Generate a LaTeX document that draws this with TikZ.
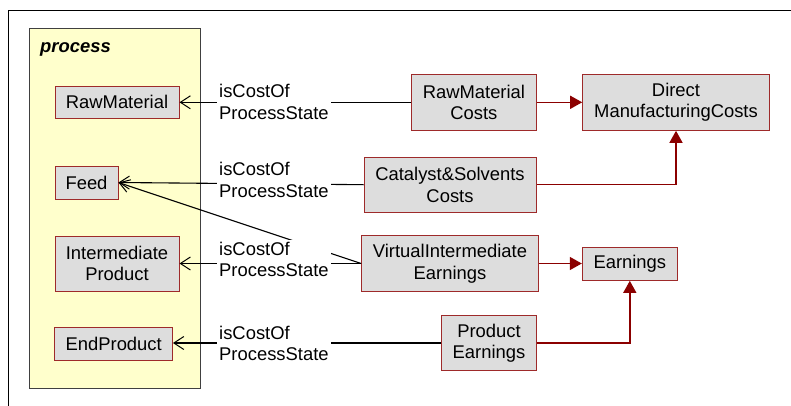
\documentclass[tikz,border=0pt]{standalone}
\usepackage{fontspec}
\setmainfont{Liberation Sans}
\usetikzlibrary{arrows.meta}
\definecolor{boxfill}{HTML}{DDDDDD}
\definecolor{boxline}{HTML}{9E2A2A}
\definecolor{darkred}{HTML}{8B0000}
\definecolor{procfill}{HTML}{FFFFCC}
\definecolor{procline}{HTML}{404040}
\tikzset{
  every node/.style={font=\fontsize{18.4}{21.5}\selectfont},
  cbox/.style={draw=boxline, fill=boxfill, line width=1pt, inner sep=0pt, align=center},
  rel/.style={draw=black, line width=1.1pt, -{Straight Barb[length=10pt,width=13pt,line width=1pt]}},
  agg/.style={draw=darkred, line width=1.4pt, -{Triangle[length=12pt,width=13pt]}},
  lbl/.style={fill=white, inner sep=2pt, align=left, anchor=west},
}
\begin{document}
\begin{tikzpicture}[x=1pt,y=-1pt]
\useasboundingbox (0,0) rectangle (791,406);
% frame
\draw[line width=1pt] (791,11) -- (8,11) -- (8,406);
% process package
\node[draw=procline, fill=procfill, line width=1pt, minimum width=171pt, minimum height=359pt, inner sep=0pt] (proc) at (114.5,208.5) {};
\node[anchor=west, inner sep=0pt, font=\fontsize{18.4}{21.5}\selectfont\bfseries\itshape] (proclbl) at (40,49) {process};
% left boxes
\node[cbox, minimum width=124pt, minimum height=32.5pt] (rm) at (117,102.3) {RawMaterial};
\node[cbox, minimum width=63pt, minimum height=33pt] (feed) at (86.5,182.5) {Feed};
\node[cbox, minimum width=124pt, minimum height=55pt] (ip) at (117,263.5) {Intermediate\\Product};
\node[cbox, minimum width=117.5pt, minimum height=33pt] (ep) at (113.7,343.5) {EndProduct};
% right boxes
\node[cbox, minimum width=124.3pt, minimum height=56pt] (rmc) at (473.9,102.3) {RawMaterial\\Costs};
\node[cbox, minimum width=186.6pt, minimum height=56pt] (dmc) at (676,102.3) {Direct\\ManufacturingCosts};
\node[cbox, minimum width=172pt, minimum height=55.3pt] (csc) at (450,184.7) {Catalyst\&Solvents\\Costs};
\node[cbox, minimum width=176.6pt, minimum height=55.6pt] (vie) at (450,263.5) {VirtualIntermediate\\Earnings};
\node[cbox, minimum width=95pt, minimum height=33.3pt] (earn) at (629.8,263.7) {Earnings};
\node[cbox, minimum width=94.6pt, minimum height=55.4pt] (pe) at (489,343) {Product\\Earnings};
% black relations
\draw[rel] (rmc.west) -- (rm.east);
\draw[rel] (csc.west) -- (feed.east);
\draw[rel] (vie.west) -- (feed.east);
\draw[rel] (vie.west) -- (ip.east |- vie.west);
\draw[rel] (pe.west) -- (ep.east |- pe.west);
% red aggregations
\draw[agg] (rmc.east) -- (dmc.west);
\draw[agg] (csc.east) -| (dmc.south);
\draw[agg] (vie.east) -- (earn.west |- vie.east);
\draw[agg] (pe.east) -| (earn.south);
% labels
\node[lbl] (l1) at (217,102) {isCostOf\\ProcessState};
\node[lbl] (l2) at (217,180) {isCostOf\\ProcessState};
\node[lbl] (l3) at (217,259.5) {isCostOf\\ProcessState};
\node[lbl] (l4) at (217,343.5) {isCostOf\\ProcessState};
\end{tikzpicture}
\end{document}
